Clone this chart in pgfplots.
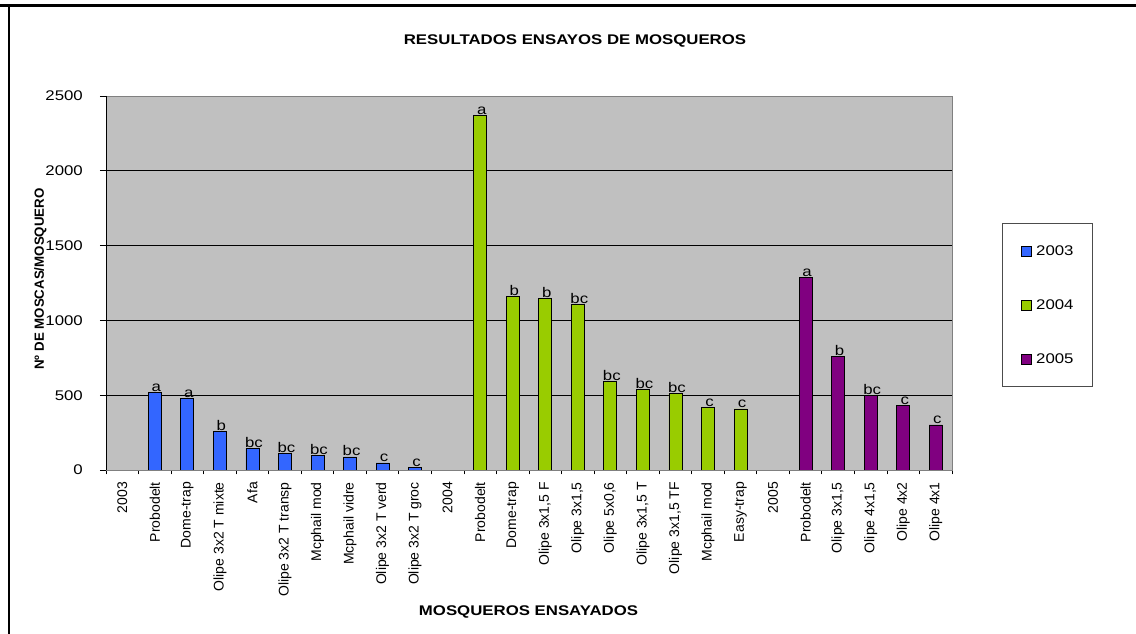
\documentclass[border=0pt]{standalone}
\usepackage{pgfplots}
\pgfplotsset{compat=1.18}
\usepackage{fontspec}
\setmainfont{Liberation Sans}[FakeStretch=1.2]
\newfontfamily\rotfont{Liberation Sans}
\definecolor{c03}{RGB}{51,102,255}
\definecolor{c04}{RGB}{153,204,0}
\definecolor{c05}{RGB}{128,0,128}
\definecolor{plotbg}{RGB}{192,192,192}
\begin{document}
\begin{tikzpicture}[x=1pt,y=1pt]
\path[use as bounding box] (0,0) rectangle (1136,634);
\draw[line width=2.5pt] (0,628.7) -- (1136,628.7);
\draw[line width=2.2pt] (9,628.7) -- (9,0);
\node[font=\bfseries\fontsize{14}{16}\selectfont] at (575,593) {RESULTADOS ENSAYOS DE MOSQUEROS};
\node[font=\bfseries\fontsize{14}{16}\selectfont] at (528.5,22.3) {MOSQUEROS ENSAYADOS};
\node[rotate=90, font=\rotfont\bfseries\fontsize{13.3}{15}\selectfont] at (40.3,355) {Nº DE MOSCAS/MOSQUERO};
\begin{axis}[
  at={(106pt,164pt)}, anchor=south west, scale only axis,
  width=846pt, height=374pt,
  xmin=0, xmax=26, ymin=0, ymax=2500,
  axis background/.style={fill=plotbg},
  axis line style={draw=black!50, line width=0.8pt},
  tick align=outside,
  xtick pos=bottom, ytick pos=left,
  tick style={black, line width=0.8pt},
  major tick length=6pt,
  minor tick length=4.5pt,
  ytick={0,500,...,2500},
  /pgf/number format/.cd, 1000 sep={}, assume math mode=true, /pgfplots/.cd,
  yticklabel style={font=\fontsize{14}{15}\selectfont, anchor=east, inner sep=0pt, xshift=-17pt},
  extra y ticks={500,1000,1500,2000},
  extra y tick labels={},
  extra y tick style={ymajorgrids=true, major grid style={black, line width=0.8pt}, major tick length=0pt},
  xtick={0.5,1.5,...,25.5},
  major x tick style={draw=none},
  minor xtick={0,1,...,26},
  minor x tick style={black, line width=0.8pt},
  xticklabel shift=6pt,
  xticklabels={2003,Probodelt,Dome-trap,Olipe 3x2 T mixte,Afa,Olipe 3x2 T transp,Mcphail mod,Mcphail vidre,Olipe 3x2 T verd,Olipe 3x2 T groc,2004,Probodelt,Dome-trap,{Olipe 3x1,5 F},{Olipe 3x1,5},{Olipe 5x0,6},{Olipe 3x1,5 T},{Olipe 3x1,5 TF},Mcphail mod,Easy-trap,2005,Probodelt,{Olipe 3x1,5},{Olipe 4x1,5},Olipe 4x2,Olipe 4x1},
  xticklabel style={rotate=90, anchor=east, inner sep=0pt, font=\rotfont\fontsize{14}{15}\selectfont},
  legend image code/.code={\draw[#1, line width=0.8pt] (0pt,-5pt) rectangle (10pt,5pt);},
  legend style={at={(1.0591,0.6604)}, anchor=north west, draw=black!70, line width=0.8pt, fill=white,
    inner xsep=19pt, inner ysep=22pt, row sep=42.7pt,
    nodes={inner sep=0pt, anchor=west},
    /tikz/every odd column/.append style={column sep=4pt},
    font=\fontsize{14}{15}\selectfont},
  every node near coord/.append style={anchor=base, inner sep=0pt, yshift=1pt, xshift=1.5pt, font=\fontsize{14}{15}\selectfont, text=black},
]
\addlegendimage{fill=c03, draw=black}
\addlegendentry{2003}
\addlegendimage{fill=c04, draw=black}
\addlegendentry{2004}
\addlegendimage{fill=c05, draw=black}
\addlegendentry{2005}
\addplot[forget plot, ybar, bar width=13pt, bar shift=0pt, fill=c03, draw=black, line width=0.8pt,
  nodes near coords, point meta=explicit symbolic] coordinates {
  (1.5,519)[a] (2.5,479)[a] (3.5,259)[b] (4.5,147)[bc] (5.5,109)[bc]
  (6.5,98)[bc] (7.5,87)[bc] (8.5,47)[c] (9.5,20)[c]};
\addplot[forget plot, ybar, bar width=13pt, bar shift=0pt, fill=c04, draw=black, line width=0.8pt,
  nodes near coords, point meta=explicit symbolic] coordinates {
  (11.5,2371)[a] (12.5,1161)[b] (13.5,1145)[b] (14.5,1105)[bc] (15.5,590)[bc]
  (16.5,539)[bc] (17.5,510)[bc] (18.5,417)[c] (19.5,408)[c]};
\addplot[forget plot, ybar, bar width=13pt, bar shift=0pt, fill=c05, draw=black, line width=0.8pt,
  nodes near coords, point meta=explicit symbolic] coordinates {
  (21.5,1290)[a] (22.5,762)[b] (23.5,497)[bc] (24.5,434)[c] (25.5,301)[c]};
\draw[black, line width=0.8pt] (rel axis cs:0,1) -- (rel axis cs:0,0) -- (rel axis cs:1,0);
\end{axis}
\end{tikzpicture}
\end{document}
